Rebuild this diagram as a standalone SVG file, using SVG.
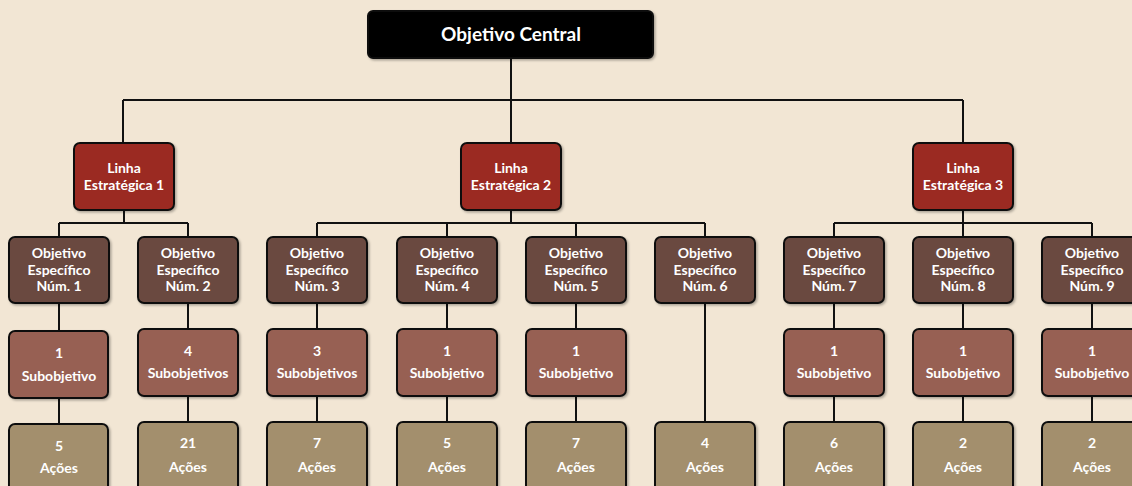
<svg xmlns="http://www.w3.org/2000/svg" width="1132" height="486" viewBox="0 0 1132 486">
<defs>
<filter id="sh" x="-10%" y="-10%" width="130%" height="130%">
<feDropShadow dx="1.5" dy="1.5" stdDeviation="1" flood-color="#000" flood-opacity="0.3"/>
</filter>
<style>
.b{stroke:#111;stroke-width:2;filter:url(#sh)}
.c{fill:#000}
.le{fill:#9B2B20}
.oe{fill:#6B4A3F}
.sb{fill:#976152}
.ac{fill:#A38F6D}
text{font-family:Lato,"Open Sans","Liberation Sans",sans-serif;font-weight:bold;fill:#fff;font-size:14px;text-anchor:middle}
.t1{font-size:19px}
.ln{fill:none;stroke:#111;stroke-width:2}
</style>
</defs>
<rect width="1132" height="486" fill="#F2E6D4"/>
<g id="connectors">
<path class="ln" d="M511 58V100M123 100H963M123 100V143M511 100V143M963 100V143"/>
<path class="ln" d="M124 210V223M59 223H188M59 223V237M188 223V237"/>
<path class="ln" d="M511 210V223M317 223H705M317 223V237M447 223V237M576 223V237M705 223V237"/>
<path class="ln" d="M963 210V223M834 223H1092M834 223V237M963 223V237M1092 223V237"/>
<path class="ln" d="M59 303V331M188 303V329M317 303V329M447 303V329M576 303V329M834 303V329M963 303V329M1092 303V329"/>
<path class="ln" d="M59 398V424M188 396V422M317 396V422M447 396V422M576 396V422M834 396V422M963 396V422M1092 396V422M705 303V422"/>
</g>
<g id="central"><rect class="b c" x="368" y="11" width="285" height="47" rx="5"/><text class="t1" x="511" y="41">Objetivo Central</text></g>
<g id="le1"><rect class="b le" x="74" y="143" width="100" height="67" rx="6"/><text x="124" y="173">Linha</text><text x="124" y="190">Estratégica 1</text></g>
<g id="le2"><rect class="b le" x="461" y="143" width="100" height="67" rx="6"/><text x="511" y="173">Linha</text><text x="511" y="190">Estratégica 2</text></g>
<g id="le3"><rect class="b le" x="913" y="143" width="100" height="67" rx="6"/><text x="963" y="173">Linha</text><text x="963" y="190">Estratégica 3</text></g>
<g id="oe1"><rect class="b oe" x="9" y="237" width="100" height="66" rx="6"/><text x="59" y="258">Objetivo</text><text x="59" y="275">Específico</text><text x="59" y="291">Núm. 1</text></g>
<g id="oe2"><rect class="b oe" x="138" y="237" width="100" height="66" rx="6"/><text x="188" y="258">Objetivo</text><text x="188" y="275">Específico</text><text x="188" y="291">Núm. 2</text></g>
<g id="oe3"><rect class="b oe" x="267" y="237" width="100" height="66" rx="6"/><text x="317" y="258">Objetivo</text><text x="317" y="275">Específico</text><text x="317" y="291">Núm. 3</text></g>
<g id="oe4"><rect class="b oe" x="397" y="237" width="100" height="66" rx="6"/><text x="447" y="258">Objetivo</text><text x="447" y="275">Específico</text><text x="447" y="291">Núm. 4</text></g>
<g id="oe5"><rect class="b oe" x="526" y="237" width="100" height="66" rx="6"/><text x="576" y="258">Objetivo</text><text x="576" y="275">Específico</text><text x="576" y="291">Núm. 5</text></g>
<g id="oe6"><rect class="b oe" x="655" y="237" width="100" height="66" rx="6"/><text x="705" y="258">Objetivo</text><text x="705" y="275">Específico</text><text x="705" y="291">Núm. 6</text></g>
<g id="oe7"><rect class="b oe" x="784" y="237" width="100" height="66" rx="6"/><text x="834" y="258">Objetivo</text><text x="834" y="275">Específico</text><text x="834" y="291">Núm. 7</text></g>
<g id="oe8"><rect class="b oe" x="913" y="237" width="100" height="66" rx="6"/><text x="963" y="258">Objetivo</text><text x="963" y="275">Específico</text><text x="963" y="291">Núm. 8</text></g>
<g id="oe9"><rect class="b oe" x="1042" y="237" width="100" height="66" rx="6"/><text x="1092" y="258">Objetivo</text><text x="1092" y="275">Específico</text><text x="1092" y="291">Núm. 9</text></g>
<g id="sb1"><rect class="b sb" x="9" y="331" width="99" height="67" rx="6"/><text x="59" y="358">1</text><text x="59" y="381">Subobjetivo</text></g>
<g id="sb2"><rect class="b sb" x="138" y="329" width="100" height="67" rx="6"/><text x="188" y="356">4</text><text x="188" y="378">Subobjetivos</text></g>
<g id="sb3"><rect class="b sb" x="267" y="329" width="100" height="67" rx="6"/><text x="317" y="356">3</text><text x="317" y="378">Subobjetivos</text></g>
<g id="sb4"><rect class="b sb" x="397" y="329" width="100" height="67" rx="6"/><text x="447" y="356">1</text><text x="447" y="378">Subobjetivo</text></g>
<g id="sb5"><rect class="b sb" x="526" y="329" width="100" height="67" rx="6"/><text x="576" y="356">1</text><text x="576" y="378">Subobjetivo</text></g>
<g id="sb7"><rect class="b sb" x="784" y="329" width="100" height="67" rx="6"/><text x="834" y="356">1</text><text x="834" y="378">Subobjetivo</text></g>
<g id="sb8"><rect class="b sb" x="913" y="329" width="100" height="67" rx="6"/><text x="963" y="356">1</text><text x="963" y="378">Subobjetivo</text></g>
<g id="sb9"><rect class="b sb" x="1042" y="329" width="100" height="67" rx="6"/><text x="1092" y="356">1</text><text x="1092" y="378">Subobjetivo</text></g>
<g id="ac1"><rect class="b ac" x="9" y="424" width="99" height="70" rx="6"/><text x="59" y="451">5</text><text x="59" y="473">Ações</text></g>
<g id="ac2"><rect class="b ac" x="138" y="422" width="100" height="70" rx="6"/><text x="188" y="448">21</text><text x="188" y="472">Ações</text></g>
<g id="ac3"><rect class="b ac" x="267" y="422" width="100" height="70" rx="6"/><text x="317" y="448">7</text><text x="317" y="472">Ações</text></g>
<g id="ac4"><rect class="b ac" x="397" y="422" width="100" height="70" rx="6"/><text x="447" y="448">5</text><text x="447" y="472">Ações</text></g>
<g id="ac5"><rect class="b ac" x="526" y="422" width="100" height="70" rx="6"/><text x="576" y="448">7</text><text x="576" y="472">Ações</text></g>
<g id="ac6"><rect class="b ac" x="655" y="422" width="100" height="70" rx="6"/><text x="705" y="448">4</text><text x="705" y="472">Ações</text></g>
<g id="ac7"><rect class="b ac" x="784" y="422" width="100" height="70" rx="6"/><text x="834" y="448">6</text><text x="834" y="472">Ações</text></g>
<g id="ac8"><rect class="b ac" x="913" y="422" width="100" height="70" rx="6"/><text x="963" y="448">2</text><text x="963" y="472">Ações</text></g>
<g id="ac9"><rect class="b ac" x="1042" y="422" width="100" height="70" rx="6"/><text x="1092" y="448">2</text><text x="1092" y="472">Ações</text></g>
</svg>
